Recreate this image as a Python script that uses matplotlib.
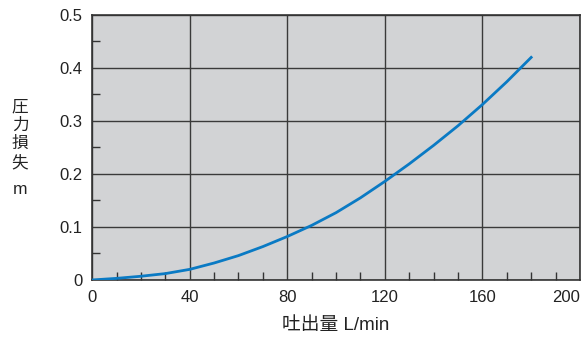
import matplotlib.pyplot as plt
from matplotlib.ticker import MultipleLocator

plt.rcParams['font.family'] = ['Liberation Sans', 'Noto Sans CJK JP']

flow = [0, 10, 20, 30, 40, 50, 60, 70, 80, 90, 100, 110, 120, 130, 140, 150, 160, 170, 180]
loss = [0, 0.003, 0.007, 0.012, 0.02, 0.032, 0.046, 0.063, 0.082, 0.103, 0.127, 0.155, 0.186, 0.219, 0.254, 0.291, 0.331, 0.374, 0.42]
x_ticks = [0, 40, 80, 120, 160, 200]
y_ticks = [0, 0.1, 0.2, 0.3, 0.4, 0.5]
y_labels = ['0', '0.1', '0.2', '0.3', '0.4', '0.5']

fig = plt.figure(figsize=(5.87, 3.41), dpi=100)
ax = fig.add_axes([0.157, 0.179, 0.831, 0.777])
ax.set_facecolor('#d2d3d5')

ax.plot(flow, loss, color='#0a7ac4', lw=2, zorder=3)

ax.set_xlim(0, 200)
ax.set_ylim(0, 0.5)
ax.set_xticks(x_ticks)
ax.set_xticklabels([str(v) for v in x_ticks])
ax.xaxis.set_minor_locator(MultipleLocator(10))
ax.set_yticks(y_ticks)
ax.set_yticklabels(y_labels)
ax.yaxis.set_minor_locator(MultipleLocator(0.05))
ax.grid(which='major', color='#3a3a3a', lw=1)
ax.tick_params(which='major', length=0, labelsize=12, colors='#222222', pad=7)
ax.tick_params(which='minor', direction='in', length=6, color='#333333', width=1)
ax.get_xticklabels()[-1].set_ha('right')
for s in ax.spines.values():
    s.set_color('#333333')
    s.set_linewidth(1.2)

ax.set_xlabel('吐出量 L/min', fontsize=13.5, color='#222222', labelpad=9)
fig.text(20 / 587, 1 - 135 / 341, '圧\n力\n損\n失', fontsize=12, color='#222222',
         ha='center', va='center', linespacing=1.28)
fig.text(20 / 587, 1 - 190 / 341, 'm', fontsize=12.5, color='#222222',
         ha='center', va='center')

fig.savefig('out.png', dpi=100)
